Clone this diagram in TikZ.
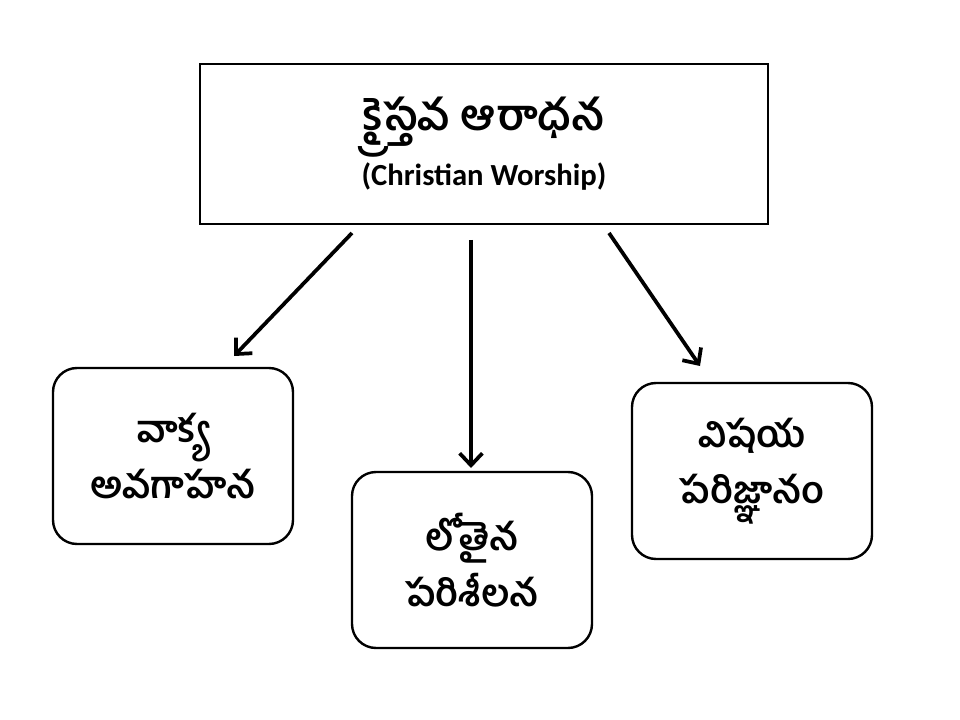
\documentclass[tikz,border=0pt]{standalone}
\usepackage{fontspec}
\setmainfont{Carlito}
\newfontfamily\telugu[Script=Telugu]{Hind Guntur}
\usetikzlibrary{arrows.meta}

\begin{document}
\begin{tikzpicture}[x=0.75pt, y=-0.75pt,
		topbox/.style={draw, line width=0.8pt, minimum width=426pt, minimum height=120pt, align=center, text depth=4pt},
		leafbox/.style={draw, line width=1.8pt, rounded corners=18pt, minimum width=180pt, minimum height=132pt, align=center, font=\telugu\bfseries\fontsize{28}{42}\selectfont},
		link/.style={line width=2.8pt, -{Straight Barb[length=9pt, width=17pt, line width=2.8pt]}}]
		\useasboundingbox (0, 0) rectangle (960, 720);
		\node[topbox] (root) at (484, 144) {{\telugu\bfseries\fontsize{32}{36}\selectfont క్రైస్తవ ఆరాధన}\\[3pt]{\bfseries\fontsize{23}{24}\selectfont (Christian Worship)}};
		\node[leafbox] (word) at (173, 456) {వాక్య\\అవగాహన};
		\node[leafbox] (deep) at (472, 560) {లోతైన\\పరిశీలన};
		\node[leafbox] (subject) at (752, 471) {విషయ\\పరిజ్ఞానం};
		
		\coordinate (from1) at (352, 233);
		\coordinate (to1) at (234, 356);
		\coordinate (from2) at (471, 240);
		\coordinate (to2) at (471, 468);
		\coordinate (from3) at (609, 233);
		\coordinate (to3) at (700, 366);
		
		\draw [link] (from1) to (to1);
		\draw [link] (from2) to (to2);
		\draw [link] (from3) to (to3);
		\end{tikzpicture}
\end{document}
